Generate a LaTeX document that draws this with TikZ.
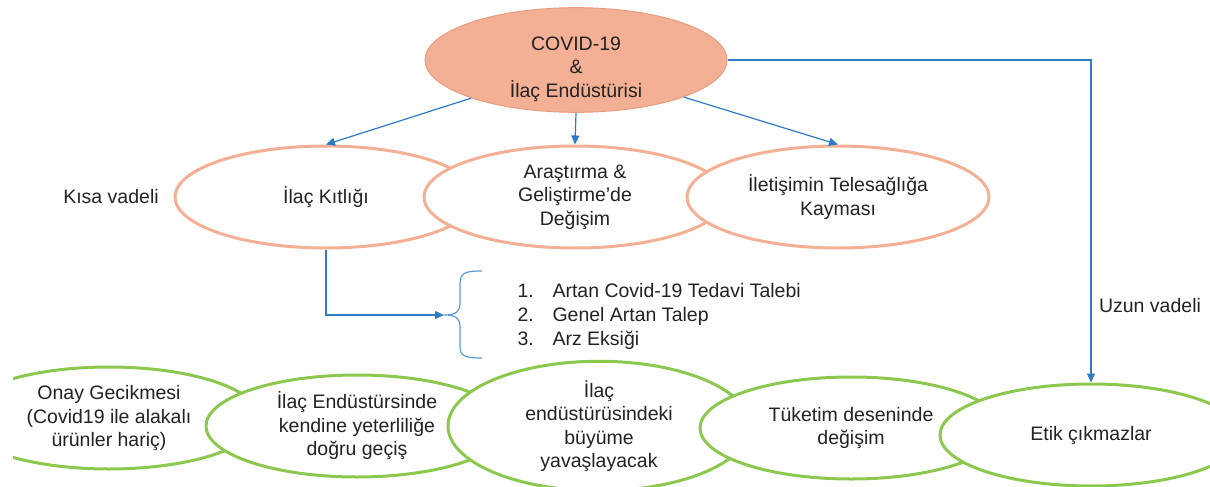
\documentclass[tikz,border=0pt]{standalone}
\usepackage{fontspec}
\setmainfont{Liberation Sans}
\usetikzlibrary{arrows.meta,shapes.geometric}
\definecolor{somon}{HTML}{F4B094}
\definecolor{somonkoyu}{HTML}{E99C80}
\definecolor{yesil}{HTML}{8DC84E}
\definecolor{mavi}{HTML}{2E7BC8}
\definecolor{acikmavi}{HTML}{5B9BD5}
\definecolor{yazi}{HTML}{222222}

\begin{document}
\begin{tikzpicture}[x=1pt, y=-1pt, font=\fontsize{19.5}{23.5}\selectfont, text=yazi,
    kisa/.style={ellipse, draw=somon, line width=3pt, fill=white, minimum width=302pt,
                 minimum height=102pt, inner sep=0pt, align=center},
    uzun/.style={kisa, draw=yesil},
    ok/.style={mavi, line width=1.2pt, -{Triangle[length=9pt,width=8pt]}}]
    \useasboundingbox (0,0) rectangle (1210,487);
    \begin{scope}
    \clip (13,0) rectangle (1210,487);
    \node[ellipse, fill=somon, draw=somonkoyu, line width=1pt, minimum width=302pt,
          minimum height=104pt, inner sep=0pt, align=center, text height=74pt,
          text depth=-4pt] (covid) at (576,60) {COVID-19\\\&\\İlaç Endüstürisi};
    \node[kisa] (kitlik) at (326,197) {İlaç Kıtlığı};
    \node[kisa] (arge) at (575,197) {Araştırma \&\\Geliştirme’de\\Değişim};
    \node[kisa] (tele) at (838,197) {İletişimin Telesağlığa\\Kayması};
    \node[uzun] (onay) at (109,418) {Onay Gecikmesi\\(Covid19 ile alakalı\\ürünler hariç)};
    \node[uzun] (yeter) at (357,426) {İlaç Endüstürsinde\\kendine yeterliliğe\\doğru geçiş};
    \node[uzun] (buyume) at (599,426) {İlaç\\endüstürüsindeki\\büyüme\\yavaşlayacak};
    \node[uzun] (tuketim) at (851,428) {Tüketim deseninde\\değişim};
    \node[uzun] (etik) at (1091,435) {Etik çıkmazlar};
    \node (kisavade) at (111,197) {Kısa vadeli};
    \node (uzunvade) at (1150,306) {Uzun vadeli};
    \coordinate (uc) at (444,315);
    \draw[ok] (covid.200) -- (kitlik.north);
    \draw[ok] (covid.south) -- (arge.north);
    \draw[ok] (covid.-19) -- (tele.north);
    \draw[ok] (covid.east) -| (etik.north);
    \draw[ok] (kitlik.south) |- (uc);
    \draw[acikmavi, line width=1.2pt] (482,271) .. controls (464,271) and (460,273) .. (460,285)
        -- (460,303) .. controls (460,312) and (456,315) .. (uc)
        .. controls (456,315) and (460,318) .. (460,327) -- (460,346)
        .. controls (460,356) and (464,358) .. (482,358);
    \foreach \s/\m [count=\i] in {1/Artan Covid-19 Tedavi Talebi, 2/Genel Artan Talep, 3/Arz Eksiği}
        \node[anchor=base west] (madde\i) at (514,273+24*\i) {\makebox[35pt][l]{\s.}\m};
    \end{scope}
\end{tikzpicture}
\end{document}
